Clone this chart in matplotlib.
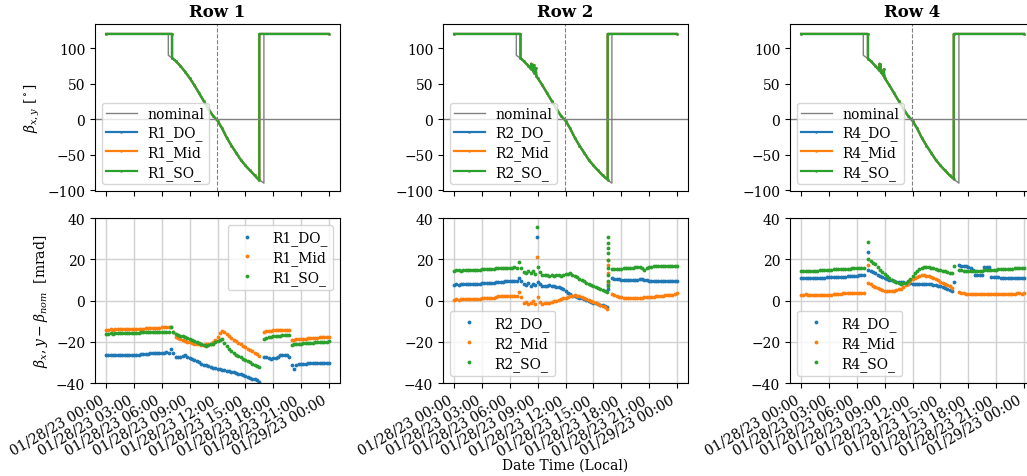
import numpy as np
import matplotlib
matplotlib.use("Agg")
import matplotlib.pyplot as plt
import matplotlib.dates as mdates
from datetime import datetime, timedelta

plt.rcParams['font.family'] = 'DejaVu Serif'
plt.rcParams['mathtext.fontset'] = 'dejavuserif'
plt.rcParams['font.size'] = 10

nan = np.nan
day0 = datetime(2023, 1, 28)

# ---- top row: tracker angle [deg] vs hours since midnight ----
nom_h = [0, 6.7, 6.7, 7.0, 7.5, 8.0, 8.5, 9.0, 9.5, 10.0, 10.5, 11.0, 11.5, 12.0,
         12.5, 13.0, 13.5, 14.0, 14.5, 15.0, 15.5, 16.0, 16.5, 17.0, 17.0, 24]
nom_v = [120, 120, 90, 87, 82, 75, 67, 58, 48, 37, 26, 15, 5, -2,
         -13, -26, -37, -47, -57, -65, -72, -79, -85, -90, 120, 120]

r1_top_h = [0, 7.1, 7.1, 7.5, 8.0, 8.5, 9.0, 9.5, 10.0, 10.5, 11.0, 11.5, 12.0, 12.5,
            13.0, 13.5, 14.0, 14.5, 15.0, 15.5, 16.0, 16.5, 16.5, 24]
r1_top_v = [120, 120, 86, 82, 75, 67, 58, 48, 37, 26, 15, 5, -2, -13,
            -26, -37, -47, -57, -65, -72, -79, -86, 120, 120]

r2_top_h = [0, 7.15, 7.15, 7.5, 8.0, 8.25, 8.3, 8.45, 8.5, 8.6, 8.65, 8.8, 8.85, 9.0,
            9.5, 10.0, 10.5, 11.0, 11.5, 12.0, 12.5, 13.0, 13.5, 14.0, 14.5, 15.0,
            15.5, 16.0, 16.55, 16.55, 24]
r2_top_v = [120, 120, 86, 82, 75, 71, 78, 77, 68, 76, 65, 72, 61, 58,
            48, 37, 26, 15, 5, -2, -13, -26, -37, -47, -57, -65,
            -72, -79, -85, 120, 120]

r4_top_h = [0, 7.2, 7.2, 7.5, 8.0, 8.4, 8.45, 8.55, 8.6, 8.85, 8.9, 8.95, 9.0,
            9.5, 10.0, 10.5, 11.0, 11.5, 12.0, 12.5, 13.0, 13.5, 14.0, 14.5, 15.0,
            15.5, 16.0, 16.45, 16.45, 24]
r4_top_v = [120, 120, 85, 82, 75, 69, 78, 77, 66, 62, 70, 61, 58,
            48, 37, 26, 15, 5, -2, -13, -26, -37, -47, -57, -65,
            -72, -79, -84, 120, 120]

noon_h = 11.9

# ---- bottom row: deviation [mrad], sampled every 15 min (0..24 h) ----
grid_h = [i * 0.25 for i in range(97)]

r1_do = [-26.4, -26.3, -26.2, -26.3, -26.4, -26.3, -26.2, -26.3, -26.3, -26.2, -26.4, -26.3, -26.2, -26.3, -26.2,
         -25.9, -25.8, -25.8, -25.7, -25.6, -25.6, -25.5, -25.4, -25.5, -25.4, -25.3, -25.2, -25.3,
         -23.3, -25.5, -27.3, -27.5, -27.2, -26.8, -26.5, -27.5, -28.0, -28.3, -28.8, -29.3, -30.0, -30.6,
         -31.1, -31.5, -31.9, -32.2, -32.5, -32.8, -33.0, -33.3, -33.6, -33.9, -34.1, -34.3, -34.5, -34.6,
         -35.0, -35.4, -35.8, -36.3, -36.7, -37.1, -37.5, -37.9, -38.3, -38.7, -39.5,
         nan,
         -27.3, -27.6, -28.0, -28.2, -28.1, -27.8, -27.2, -26.6, -26.5, -26.4, -26.5, -27.2,
         -31.4, -33.0, -31.5, -30.9, -30.7, -30.6, -30.6, -30.5, -30.5, -30.5, -30.4, -30.4, -30.4,
         -30.3, -30.3, -30.3, -30.3]
r1_mid = [-14.1, -14.1, -14.0, -14.1, -14.0, -13.9, -14.0, -13.9, -13.9, -13.8, -13.9, -13.8, -13.7, -13.8,
          -13.7, -13.6, -13.6, -13.5, -13.5, -13.4, -13.3, -13.3, -13.2, -13.1, -13.0, -13.0, -12.9, -12.8,
          -13.0, -15.5, -17.6, -18.3, -18.9, -19.3, -19.7, -20.0, -20.3, -20.6,
          -20.9, -21.1, -21.3, -21.4, -21.4, -21.3, -21.1, -20.9, -20.3, -19.2,
          -17.6, -15.8, -14.6, -15.4, -16.4, -17.3, -18.2, -19.1, -19.8, -20.5,
          -21.2, -21.9, -22.6, -23.3, -24.0, -24.7, -25.4, -26.1, -26.9,
          nan,
          -15.2, -15.0, -14.8, -14.6, -14.5, -14.4, -14.4, -14.3, -14.3, -14.4, -14.4, -14.5,
          -19.2, -19.0, -18.9, -18.8, -18.7, -18.6, -18.5, -18.4, -18.3, -18.2, -18.1, -18.0,
          -17.9, -17.8, -17.8, -17.7, -17.6]
r1_so = [-16.0, -16.0, -15.9, -16.0, -15.9, -15.9, -15.8, -15.8, -15.8, -15.7, -15.7, -15.7, -15.6, -15.6,
         -15.6, -15.5, -15.5, -15.5, -15.4, -15.4, -15.4, -15.3, -15.3, -15.3, -15.2, -15.2, -15.1, -15.1,
         -13.0, -15.5, -16.3, -16.8, -17.0, -17.4, -17.9, -18.4, -18.6, -19.0,
         -19.5, -20.0, -20.5, -21.0, -21.5, -22.0, -21.7, -21.3, -20.9, -20.3,
         -19.7, -19.0, -18.5, -20.5, -22.3, -23.5, -24.4, -25.3, -26.2, -26.9,
         -27.5, -28.2, -28.8, -29.4, -30.0, -30.6, -31.1, -31.7, -32.4,
         nan,
         -18.5, -18.2, -17.9, -17.6, -17.4, -17.2, -17.1, -17.0, -16.9, -16.8, -16.8, -16.8,
         -21.4, -21.2, -21.1, -21.0, -20.9, -20.8, -20.7, -20.6, -20.5, -20.4, -20.3, -20.2,
         -20.1, -20.0, -19.9, -19.9, -19.8]

r2_do = [7.7, 7.8, 7.7, 7.8, 7.8, 7.9, 7.8, 7.9, 7.9, 8.0, 7.9, 8.0, 8.4, 8.5, 8.6, 8.5, 8.6, 8.7, 8.8, 8.9,
         9.0, 9.1, 9.3, 9.3, 9.4, 9.5, 9.5, 9.5,
         11.1, 9.5, 8.0, 7.5, 8.5, 7.0, 8.0, 7.5,
         9.1, 8.0, 7.0, 6.8, 7.2, 7.6, 7.0, 6.8, 6.6, 6.4, 6.0, 5.5, 4.6, 3.7, 3.0, 2.4, 2.0, 1.6, 1.3, 1.1,
         0.8, 0.4, 0.0, -0.5, -1.0, -1.4, -1.8, -2.1, -2.4, -2.8, -3.3,
         nan,
         10.7, 10.5, 10.3, 10.2, 10.1, 10.0, 10.0, 9.9, 9.9, 9.9, 10.0, 10.1, 10.2, 10.3, 10.0, 9.8, 9.6, 9.6,
         9.5, 9.5, 9.6, 9.5, 9.5, 9.5, 9.6, 9.5, 9.5, 9.4, 9.5]
r2_mid = [0.4, 0.5, 0.4, 0.5, 0.5, 0.6, 0.5, 0.6, 0.6, 0.7, 0.6, 0.7, 1.1, 1.2, 1.2, 1.3, 1.3, 1.4, 1.9, 2.0,
          2.0, 2.1, 2.0, 2.1, 2.1, 2.0, 2.1, 2.0,
          4.2, 1.5, -1.0, -0.5, -1.5, -1.0, 0.0, -1.5,
          1.8, -0.5, -1.5, -1.4, -1.2, -1.0, -0.8, -0.4, -0.2, 0.2, 0.6, 1.0, 1.4, 1.7, 2.0, 2.3, 2.6, 2.3,
          2.0, 1.8, 1.3, 0.8, 0.3, -0.2, -0.7, -1.2, -1.7, -2.2, -2.7, -3.2, -3.9,
          nan,
          3.0, 2.5, 2.0, 1.8, 1.6, 1.4, 1.3, 1.2, 1.1, 1.1, 1.1, 1.2, 1.3, 1.4, 1.5, 1.6, 1.8, 1.8,
          1.9, 2.0, 2.1, 2.2, 2.4, 2.5, 2.6, 2.7, 2.9, 3.1, 3.4]
r2_so = [14.5, 14.6, 14.6, 14.5, 14.6, 14.7, 14.6, 14.7, 14.7, 14.8, 14.7, 14.8, 15.2, 15.3, 15.4, 15.4,
         15.5, 15.5, 15.6, 15.6, 15.7, 15.8, 15.9, 15.9, 16.0, 16.0, 16.1, 16.0,
         18.9, 16.0, 14.0, 13.5, 14.5, 13.5, 14.2, 13.0,
         16.3, 14.0, 12.5, 12.2, 12.3, 12.0, 12.2, 12.1, 12.3, 12.2, 12.0, 12.4, 12.8, 13.0, 13.4, 12.5,
         11.9, 11.2, 10.5, 9.9, 9.3, 8.7, 8.1, 7.5, 7.1, 6.6, 6.2, 5.7, 5.2, 4.6, 4.3,
         nan,
         15.5, 15.4, 15.3, 15.4, 15.5, 15.6, 15.7, 15.8, 15.9, 16.0, 16.1, 16.2, 16.3, 16.0, 14.9, 15.6,
         16.3, 16.4, 16.5, 16.5, 16.6, 16.6, 16.5, 16.6, 16.6, 16.7, 16.6, 16.6, 16.6]

r4_do = [11.0, 11.0, 11.1, 11.0, 11.1, 11.0, 11.1, 11.0, 11.1, 11.1, 11.1, 11.2, 11.2, 11.2, 11.3, 11.3,
         11.4, 11.5, 11.5, 11.6, 11.7, 11.8, 11.9, 12.0, 12.1, 12.2, 12.2, 12.3,
         nan,
         14.7, 14.3, 13.7, 13.2, 12.5, 11.8, 11.2, 10.7, 10.3, 10.0, 9.7, 9.4, 9.2, 9.1, 9.1, 8.9, 8.6,
         8.2, 8.5, 8.2, 8.2, 8.0, 8.0, 7.9, 8.0, 7.9, 7.9, 7.8, 7.6, 7.4, 7.1, 6.9, 6.6, 6.2, 5.8, 5.3, 4.6,
         nan, nan,
         17.1, 16.9, 16.7, 16.5, 16.2, 15.6, 14.8, 12.3, 12.3, 12.2, 12.3, 16.3, 16.3, 16.2, 11.5, 11.3,
         11.2, 11.2, 11.1, 11.1, 11.1, 11.0, 11.0, 11.0, 10.9, 10.9, 10.9, 10.8, 10.8]
r4_mid = [2.9, 2.9, 3.0, 2.9, 2.9, 2.8, 2.8, 2.7, 2.6, 2.6, 2.5, 2.5, 2.6, 2.8, 3.0, 3.1, 3.2, 3.3, 3.4, 3.4,
          3.5, 3.5, 3.5, 3.6, 3.6, 3.6, 3.7, 3.7,
          nan,
          8.6, 8.0, 7.2, 6.6, 6.0, 5.4, 5.0, 4.7, 4.5, 4.4, 4.5, 4.7, 5.0, 5.4, 5.8, 6.5, 7.3, 8.2, 9.3,
          10.2, 10.9, 11.5, 11.9, 12.2, 12.2, 12.0, 11.7, 11.4, 11.0, 10.5, 9.9, 9.2, 8.6, 8.1, 7.6, 7.0, 6.2,
          nan, nan,
          3.9, 3.7, 3.5, 3.3, 3.2, 3.1, 3.1, 3.0, 3.0, 3.0, 3.1, 3.0, 3.1, 3.0, 3.1, 3.1, 3.2, 3.1, 3.2,
          3.2, 3.3, 3.2, 3.3, 3.3, 3.3, 3.4, 3.4, 3.3, 3.4]
r4_so = [14.3, 14.4, 14.3, 14.4, 14.3, 14.5, 14.4, 14.5, 14.6, 14.7, 14.8, 14.9, 15.0, 15.0, 15.1, 15.1,
         15.2, 15.3, 15.3, 15.4, 15.5, 15.5, 15.6, 15.6, 15.7, 15.7, 15.8, 15.8,
         nan,
         19.9, 19.2, 18.3, 17.5, 16.3, 15.0, 13.9, 12.9, 11.9, 11.0, 10.1, 9.4, 8.8, 8.4, 8.2, 8.3, 8.6,
         9.3, 10.5, 12.0, 13.3, 14.5, 15.4, 16.0, 16.3, 16.4, 16.2, 16.0, 15.7, 15.4, 15.0, 14.7, 14.4,
         14.1, 13.8, 13.5, 13.1,
         nan, nan,
         15.0, 14.7, 14.4, 14.2, 14.3, 14.2, 14.3, 14.3, 14.4, 14.4, 14.5, 14.6, 14.7, 14.8, 14.9, 15.0,
         15.0, 15.1, 15.1, 15.2, 15.3, 15.4, 15.5, 15.5, 15.6, 15.7, 15.8, 15.9, 16.0]

# isolated outlier points (hour, value)
r2_spk_do_h = [8.88, 16.56, 16.56]
r2_spk_do_v = [31.0, 8.0, 5.5]
r2_spk_mid_h = [8.88, 16.56, 16.56, 16.56, 16.56]
r2_spk_mid_v = [21.2, 19.7, 17.3, 13.1, 9.0]
r2_spk_so_h = [8.88, 16.56, 16.56, 16.56, 16.56, 16.56, 16.56, 16.56, 16.56, 16.56]
r2_spk_so_v = [35.8, 30.6, 27.9, 25.4, 23.0, 19.7, 15.7, 12.5, 9.3, 6.8]
r4_spk_do_h = [7.23, 16.45]
r4_spk_do_v = [23.6, 9.1]
r4_spk_mid_h = [7.23]
r4_spk_mid_v = [17.1]
r4_spk_so_h = [7.23, 16.45]
r4_spk_so_v = [28.5, 16.6]


def t(hours):
    return [day0 + timedelta(hours=h) for h in hours]


rows = [
    ('Row 1', 'R1', r1_top_h, r1_top_v, [r1_do, r1_mid, r1_so],
     [([], []), ([], []), ([], [])], 'upper right'),
    ('Row 2', 'R2', r2_top_h, r2_top_v, [r2_do, r2_mid, r2_so],
     [(r2_spk_do_h, r2_spk_do_v), (r2_spk_mid_h, r2_spk_mid_v), (r2_spk_so_h, r2_spk_so_v)], 'lower left'),
    ('Row 4', 'R4', r4_top_h, r4_top_v, [r4_do, r4_mid, r4_so],
     [(r4_spk_do_h, r4_spk_do_v), (r4_spk_mid_h, r4_spk_mid_v), (r4_spk_so_h, r4_spk_so_v)], 'lower left'),
]
suffix = ['_DO_', '_Mid', '_SO_']
colors = ['#1f77b4', '#ff7f0e', '#2ca02c']

W, H = 1027, 477
fig = plt.figure(figsize=(W / 100, H / 100), dpi=100)
lefts = [95, 443, 790]
aw = 245


def box(left, top, bottom):
    return [left / W, 1 - bottom / H, aw / W, (bottom - top) / H]


fmt = mdates.DateFormatter('%m/%d/%y %H:%M')
loc = mdates.HourLocator(byhour=range(0, 24, 3))

for k, (title, tag, th, tv, devs, spikes, bloc) in enumerate(rows):
    ax1 = fig.add_axes(box(lefts[k], 25, 192))
    ax2 = fig.add_axes(box(lefts[k], 219, 384), sharex=ax1)

    ax1.plot(t(nom_h), nom_v, color='gray', lw=1, label='nominal')
    for j in range(3):
        ax1.plot(t(th), tv, color=colors[j], lw=1.6, marker='.', ms=1.5,
                 label=tag + suffix[j])
    ax1.axhline(0, color='gray', lw=1)
    ax1.axvline(day0 + timedelta(hours=noon_h), color='gray', ls='--', lw=0.8)
    ax1.set_ylim(-101, 134)
    ax1.set_yticks([-100, -50, 0, 50, 100])
    ax1.set_title(title, fontweight='bold', fontsize=12)
    ax1.legend(loc='lower left', fontsize=10, handlelength=2.2, borderpad=0.3,
               labelspacing=0.35)
    ax1.tick_params(labelbottom=False)

    for j in range(3):
        ax2.plot(t(grid_h), devs[j], ls='none', marker='.', ms=3.5, color=colors[j],
                 label=tag + suffix[j])
    for j in range(3):
        sh, sv = spikes[j]
        if sh:
            ax2.plot(t(sh), sv, ls='none', marker='.', ms=3.5, color=colors[j])
    ax2.set_ylim(-40, 40)
    ax2.set_yticks([-40, -20, 0, 20, 40])
    ax2.grid(True, color='0.82', lw=1)
    ax2.set_axisbelow(True)
    ax2.legend(loc=bloc, fontsize=10, numpoints=1, markerscale=1.0,
               borderpad=0.4, labelspacing=0.35)
    ax2.xaxis.set_major_locator(loc)
    ax2.xaxis.set_major_formatter(fmt)
    for lab in ax2.get_xticklabels():
        lab.set_rotation(30)
        lab.set_ha('right')

    if k == 0:
        ax1.set_ylabel(r'$\beta_{x,y}$ [$^\circ$]')
        ax2.set_ylabel(r'$\beta_{x}, y - \beta_{nom}$  [mrad]')
    if k == 1:
        ax2.set_xlabel('Date Time (Local)')
        ax2.xaxis.set_label_coords(0.5, -0.455)

fig.savefig('out.png', dpi=100)
